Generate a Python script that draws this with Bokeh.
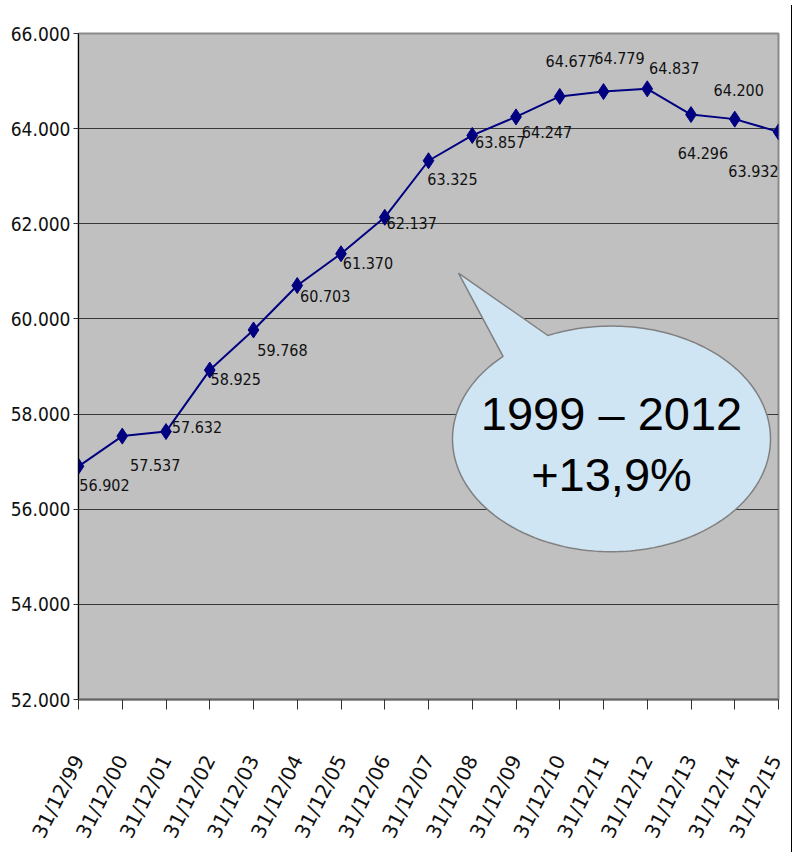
import numpy as np
from bokeh.plotting import figure
from bokeh.models import Range1d, FixedTicker, ColumnDataSource, Div, LabelSet
from bokeh.layouts import row
from bokeh.core.properties import value
from bokeh.embed import file_html
from bokeh.resources import INLINE

# ---- data ----
dates = ["31/12/99", "31/12/00", "31/12/01", "31/12/02", "31/12/03", "31/12/04",
         "31/12/05", "31/12/06", "31/12/07", "31/12/08", "31/12/09", "31/12/10",
         "31/12/11", "31/12/12", "31/12/13", "31/12/14", "31/12/15"]
values = [56902, 57537, 57632, 58925, 59768, 60703, 61370, 62137, 63325, 63857,
          64247, 64677, 64779, 64837, 64296, 64200, 63932]
value_labels = ["56.902", "57.537", "57.632", "58.925", "59.768", "60.703", "61.370",
                "62.137", "63.325", "63.857", "64.247", "64.677", "64.779", "64.837",
                "64.296", "64.200", "63.932"]
y_ticks = [52000, 54000, 56000, 58000, 60000, 62000, 64000, 66000]
y_tick_labels = ["52.000", "54.000", "56.000", "58.000", "60.000", "62.000", "64.000", "66.000"]
callout_lines = ["1999 \u2013 2012", "+13,9%"]

# ---- label placement (screen px offsets from each point) ----
label_dx = [26, 33, 31, 26, 29, 28, 27, 27, 24, 28, 31, 11, 16, 27, 12, 4, -25]
label_dy = [19, 29, -5, 9, 20, 11, 9, 6, 18, 7, 15, -35, -34, -21, 38, -29, 39]

NARROW = "DejaVu Sans Condensed"

# frame geometry (page px) used for the callout shape
FX0, FX1, FY0, FY1 = 78.0, 778.0, 33.0, 700.0
XMIN, XMAX, YMIN, YMAX = 0.0, 16.0, 52000.0, 66000.0


def px_to_x(px):
    return XMIN + (np.asarray(px) - FX0) / (FX1 - FX0) * (XMAX - XMIN)


def py_to_y(py):
    return YMAX - (np.asarray(py) - FY0) / (FY1 - FY0) * (YMAX - YMIN)


p = figure(width=786, height=850,
           x_range=Range1d(XMIN, XMAX), y_range=Range1d(YMIN, YMAX),
           output_backend="svg", toolbar_location=None,
           min_border_left=78, min_border_right=8, min_border_top=33, min_border_bottom=150,
           background_fill_color="#C0C0C0", border_fill_color="white")

p.outline_line_color = "#8a8a8a"
p.outline_line_width = 2

p.xgrid.grid_line_color = None
p.ygrid.grid_line_color = "#383838"
p.ygrid.grid_line_width = 1
p.ygrid.ticker = FixedTicker(ticks=y_ticks)

# y axis
p.yaxis.ticker = FixedTicker(ticks=y_ticks)
p.yaxis.major_label_overrides = {t: l for t, l in zip(y_ticks, y_tick_labels)}
p.yaxis.major_label_text_font = NARROW
p.yaxis.major_label_text_font_size = "19px"
p.yaxis.major_label_text_color = "#111111"
p.yaxis.major_tick_in = 0
p.yaxis.major_tick_out = 5
p.yaxis.minor_tick_line_color = None
p.yaxis.axis_line_color = "black"
p.yaxis.major_tick_line_color = "#333333"
p.yaxis.major_label_standoff = 3

# x axis
p.xaxis.ticker = FixedTicker(ticks=list(range(len(dates))))
p.xaxis.major_label_overrides = {i: d for i, d in enumerate(dates)}
p.xaxis.major_label_orientation = np.deg2rad(63)
p.xaxis.major_label_text_font = "DejaVu Sans"
p.xaxis.major_label_text_font_size = "20px"
p.xaxis.major_label_text_color = "#111111"
p.xaxis.major_tick_in = 0
p.xaxis.major_tick_out = 10
p.xaxis.minor_tick_line_color = None
p.xaxis.axis_line_color = "#666666"
p.xaxis.axis_line_width = 2
p.xaxis.major_tick_line_color = "#333333"
p.xaxis.major_label_standoff = 47

# callout bubble (ellipse with a tail), built in page px then mapped to data
cx, cy, ra, rb = 611.0, 439.0, 159.0, 113.0
t1 = np.deg2rad(np.linspace(246.4, 360.0 + 227.0, 240))
ex = cx + ra * np.cos(t1)
ey = cy + rb * np.sin(t1)
tip_px, tip_py = 458.0, 273.0
bx = np.concatenate([ex, [tip_px], [ex[0]]])
by = np.concatenate([ey, [tip_py], [ey[0]]])
p.patch(px_to_x(bx), py_to_y(by), fill_color="#CFE5F3", line_color="#808080", line_width=1.5)

p.text(x=[float(px_to_x(611))] * 2, y=list(py_to_y([414, 475])), text=callout_lines,
       text_font=value("Liberation Sans"), text_font_size="47px", text_color="black",
       text_align="center", text_baseline="middle")

# series
src = ColumnDataSource(dict(x=list(range(len(values))), y=values, lab=value_labels,
                            dx=label_dx, dy=[-d for d in label_dy]))
p.line("x", "y", source=src, line_color="#000080", line_width=2)
p.scatter("x", "y", source=src, marker="diamond", size=16,
          fill_color="#000080", line_color="#000080")
p.add_layout(LabelSet(x="x", y="y", text="lab", source=src, x_offset="dx", y_offset="dy",
                      text_font=value(NARROW), text_font_size=value("16px"),
                      text_color="#111111", text_align="center", text_baseline="middle"))

edge = Div(width=2, height=850, styles={"background-color": "black"})
layout = row(p, edge)

open("out.html", "w").write(file_html(layout, INLINE))
